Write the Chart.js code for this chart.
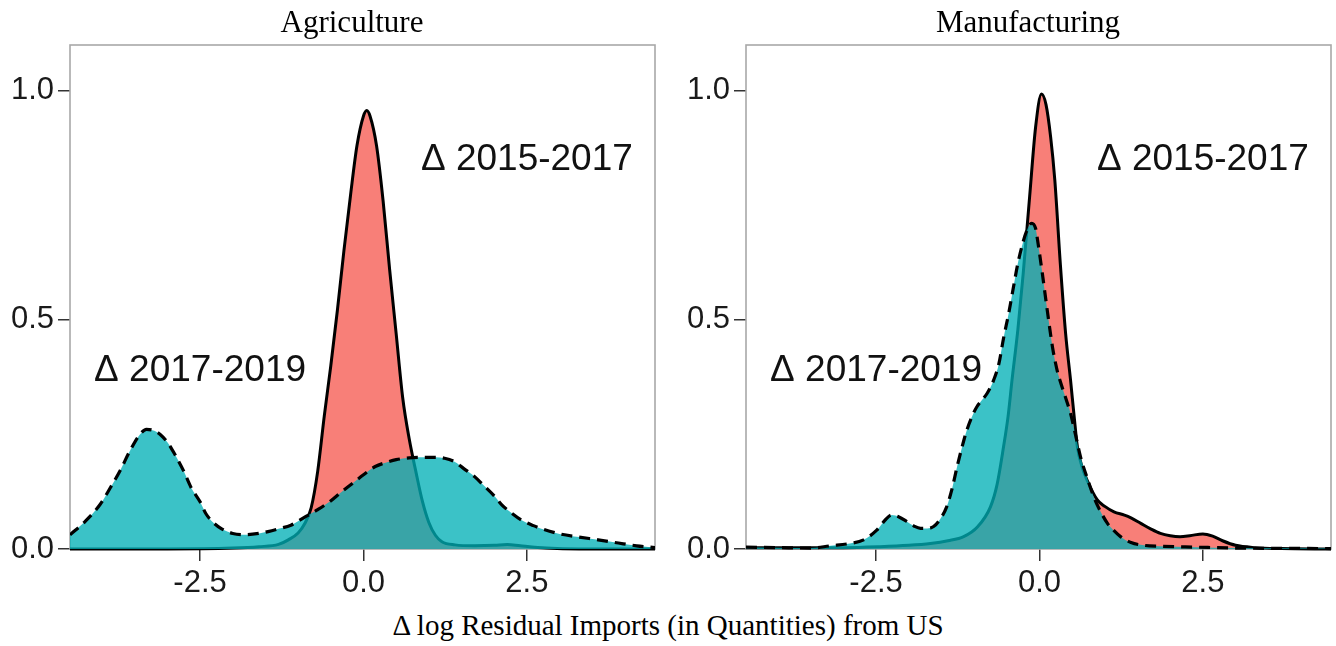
<!DOCTYPE html>
<html>
<head>
<meta charset="utf-8">
<script src="https://cdn.jsdelivr.net/npm/chart.js@4.4.1/dist/chart.umd.min.js"></script>
<style>
  html, body { margin: 0; padding: 0; background: #ffffff; }
  #wrap { position: relative; width: 1336px; height: 646px; overflow: hidden; background: #ffffff; }
  canvas { position: absolute; top: 0; }
  .serif { position: absolute; font-family: "Liberation Serif", "DejaVu Serif", serif; color: #000; white-space: nowrap; text-align: center; }
  .panel-title { font-size: 31px; line-height: 31px; }
  .axis-title { font-size: 29px; line-height: 29px; }
</style>
</head>
<body>
<div id="wrap">
  <canvas id="agri" width="668" height="600" style="left:0px"></canvas>
  <canvas id="manu" width="668" height="600" style="left:668px"></canvas>
  <div class="serif panel-title" style="left:252px; width:200px; top:6px;">Agriculture</div>
  <div class="serif panel-title" style="left:928px; width:200px; top:6px;">Manufacturing</div>
  <div class="serif axis-title" style="left:368px; width:600px; top:611px;">&Delta;&#8201;log Residual Imports (in Quantities) from US</div>
</div>
<script>
// Kernel density estimates of the change in log residual imports from the US

// Agriculture, change 2015-2017
const agriX1517 = [-4.49, -3.0, -2.0, -1.6, -1.3, -1.15, -1.0, -0.9, -0.8, -0.7, -0.6, -0.5, -0.4, -0.3, -0.2, -0.1, 0.0, 0.05, 0.1, 0.2, 0.3, 0.4, 0.5, 0.6, 0.7, 0.8, 0.9, 1.0, 1.1, 1.2, 1.4, 1.7, 2.0, 2.2, 2.4, 2.8, 3.3, 4.46];
const agriY1517 = [0.0, 0.0, 0.002, 0.005, 0.01, 0.02, 0.035, 0.055, 0.09, 0.17, 0.29, 0.40, 0.52, 0.65, 0.77, 0.88, 0.945, 0.957, 0.945, 0.88, 0.76, 0.61, 0.47, 0.33, 0.24, 0.17, 0.105, 0.058, 0.03, 0.016, 0.009, 0.007, 0.008, 0.01, 0.007, 0.002, 0.0, 0.0];

// Agriculture, change 2017-2019
const agriX1719 = [-4.49, -4.26, -4.03, -3.88, -3.72, -3.57, -3.42, -3.32, -3.2, -3.11, -3.0, -2.88, -2.75, -2.64, -2.5, -2.41, -2.3, -2.17, -2.0, -1.82, -1.6, -1.46, -1.3, -1.11, -0.88, -0.7, -0.52, -0.35, -0.17, 0.0, 0.18, 0.35, 0.5, 0.7, 0.9, 1.1, 1.24, 1.4, 1.53, 1.7, 1.83, 2.0, 2.12, 2.27, 2.42, 2.6, 2.71, 3.0, 3.3, 3.59, 3.9, 4.18, 4.46];
const agriY1719 = [0.031, 0.06, 0.097, 0.132, 0.172, 0.215, 0.25, 0.261, 0.258, 0.25, 0.233, 0.205, 0.17, 0.135, 0.103, 0.077, 0.058, 0.044, 0.034, 0.031, 0.034, 0.038, 0.044, 0.052, 0.071, 0.086, 0.103, 0.123, 0.143, 0.162, 0.18, 0.189, 0.195, 0.199, 0.2, 0.2, 0.198, 0.19, 0.176, 0.158, 0.14, 0.116, 0.096, 0.078, 0.063, 0.051, 0.045, 0.033, 0.026, 0.02, 0.013, 0.007, 0.003];

// Manufacturing, change 2015-2017
const manuX1517 = [-4.49, -3.5, -3.0, -2.44, -2.0, -1.67, -1.4, -1.16, -0.95, -0.75, -0.65, -0.55, -0.48, -0.42, -0.33, -0.25, -0.15, -0.06, 0.03, 0.1, 0.17, 0.234, 0.32, 0.4, 0.475, 0.53, 0.58, 0.65, 0.73, 0.885, 1.0, 1.14, 1.3, 1.4, 1.55, 1.7, 1.85, 2.0, 2.15, 2.3, 2.5, 2.65, 2.8, 3.0, 3.3, 3.7, 4.46];
const manuY1517 = [0.003, 0.003, 0.003, 0.005, 0.008, 0.012, 0.018, 0.027, 0.048, 0.092, 0.14, 0.223, 0.29, 0.369, 0.48, 0.60, 0.77, 0.92, 0.993, 0.97, 0.90, 0.806, 0.62, 0.47, 0.369, 0.29, 0.223, 0.18, 0.15, 0.107, 0.093, 0.081, 0.074, 0.068, 0.056, 0.044, 0.034, 0.029, 0.027, 0.029, 0.033, 0.028, 0.018, 0.008, 0.003, 0.001, 0.0];

// Manufacturing, change 2017-2019
const manuX1719 = [-4.49, -4.0, -3.5, -3.2, -2.9, -2.69, -2.49, -2.35, -2.26, -2.15, -2.03, -1.92, -1.82, -1.72, -1.62, -1.52, -1.42, -1.34, -1.26, -1.18, -1.11, -1.03, -0.96, -0.88, -0.8, -0.7, -0.62, -0.55, -0.47, -0.4, -0.33, -0.26, -0.21, -0.12, -0.06, -0.03, 0.045, 0.12, 0.2, 0.27, 0.32, 0.4, 0.475, 0.55, 0.63, 0.73, 0.83, 0.93, 1.04, 1.14, 1.24, 1.4, 1.6, 1.83, 2.4, 3.0, 4.46];
const manuY1719 = [0.004, 0.003, 0.002, 0.007, 0.012, 0.02, 0.041, 0.065, 0.074, 0.07, 0.06, 0.05, 0.045, 0.045, 0.049, 0.065, 0.092, 0.13, 0.18, 0.225, 0.26, 0.29, 0.31, 0.325, 0.34, 0.369, 0.405, 0.46, 0.515, 0.57, 0.624, 0.665, 0.689, 0.711, 0.70, 0.675, 0.60, 0.52, 0.44, 0.39, 0.365, 0.33, 0.296, 0.25, 0.2, 0.155, 0.114, 0.083, 0.056, 0.04, 0.027, 0.014, 0.008, 0.006, 0.004, 0.002, 0.001];

// Axis ticks
const xTicks = [-2.5, 0.0, 2.5];
const yTicks = [0.0, 0.5, 1.0];

// Period labels placed inside each panel (data coordinates)
const periodLabels = ["\u0394 2015-2017", "\u0394 2017-2019"];
const agriLabelX = [2.5, -2.5];
const agriLabelY = [0.85, 0.39];
const manuLabelX = [2.5, -2.5];
const manuLabelY = [0.85, 0.39];

const RED_FILL = 'rgba(247,116,108,0.92)';
const TEAL_FILL = 'rgba(0,176,182,0.77)';
const SANS = '"Liberation Sans", Arial, sans-serif';

function pairs(xs, ys) { return xs.map((x, i) => ({ x: x, y: ys[i] })); }

// Grey panel frame drawn beneath the densities
const framePlugin = {
  id: 'panelFrame',
  beforeDatasetsDraw(chart) {
    const a = chart.chartArea, ctx = chart.ctx;
    ctx.save();
    ctx.strokeStyle = '#a8a8a8';
    ctx.lineWidth = 1.6;
    ctx.strokeRect(a.left, a.top, a.right - a.left, a.bottom - a.top);
    ctx.restore();
  }
};

// Period labels written over the densities
const labelPlugin = {
  id: 'periodLabels',
  afterDatasetsDraw(chart, args, opts) {
    const ctx = chart.ctx, xs = chart.scales.x, ys = chart.scales.y;
    ctx.save();
    ctx.font = '37px ' + SANS;
    ctx.fillStyle = '#111111';
    ctx.textAlign = 'center';
    ctx.textBaseline = 'middle';
    opts.texts.forEach((t, i) => {
      ctx.fillText(t, xs.getPixelForValue(opts.xs[i]), ys.getPixelForValue(opts.ys[i]));
    });
    ctx.restore();
  }
};

function makePanel(id, x1517, y1517, x1719, y1719, labX, labY, axisWidth, padRight) {
  return new Chart(document.getElementById(id), {
    type: 'line',
    data: {
      datasets: [
        {
          label: '2015-2017',
          data: pairs(x1517, y1517),
          borderColor: '#000000',
          borderWidth: 3,
          backgroundColor: RED_FILL,
          fill: 'origin',
          pointRadius: 0,
          cubicInterpolationMode: 'monotone',
          order: 2,
          clip: { left: 0, top: 0, right: 0, bottom: 3 }
        },
        {
          label: '2017-2019',
          data: pairs(x1719, y1719),
          borderColor: '#000000',
          borderWidth: 3.2,
          borderDash: [11, 7],
          backgroundColor: TEAL_FILL,
          fill: 'origin',
          pointRadius: 0,
          cubicInterpolationMode: 'monotone',
          order: 1,
          clip: { left: 0, top: 0, right: 0, bottom: 3 }
        }
      ]
    },
    options: {
      responsive: false,
      animation: false,
      events: [],
      layout: { padding: { top: 45, right: padRight, left: 0, bottom: 0 } },
      plugins: {
        legend: { display: false },
        tooltip: { enabled: false },
        title: { display: false },
        periodLabels: { texts: periodLabels, xs: labX, ys: labY }
      },
      scales: {
        x: {
          type: 'linear',
          min: -4.49,
          max: 4.46,
          border: { display: false },
          grid: { display: true, drawOnChartArea: false, drawTicks: true, tickLength: 12, tickColor: '#333333', lineWidth: 1.5 },
          ticks: {
            padding: 4,
            color: '#1a1a1a',
            font: { family: SANS, size: 31 },
            maxRotation: 0,
            callback: v => v.toFixed(1)
          },
          afterBuildTicks: s => { s.ticks = xTicks.map(v => ({ value: v })); },
          afterFit: s => { s.height = 51; }
        },
        y: {
          type: 'linear',
          min: 0,
          max: 1.1,
          border: { display: false },
          grid: { display: true, drawOnChartArea: false, drawTicks: true, tickLength: 12, tickColor: '#333333', lineWidth: 1.5 },
          ticks: {
            padding: 4,
            color: '#1a1a1a',
            font: { family: SANS, size: 31 },
            callback: v => v.toFixed(1)
          },
          afterBuildTicks: s => { s.ticks = yTicks.map(v => ({ value: v })); },
          afterFit: s => { s.width = axisWidth; }
        }
      }
    },
    plugins: [framePlugin, labelPlugin]
  });
}

makePanel('agri', agriX1517, agriY1517, agriX1719, agriY1719, agriLabelX, agriLabelY, 70, 13);
makePanel('manu', manuX1517, manuY1517, manuX1719, manuY1719, manuLabelX, manuLabelY, 78, 5);
</script>
</body>
</html>
